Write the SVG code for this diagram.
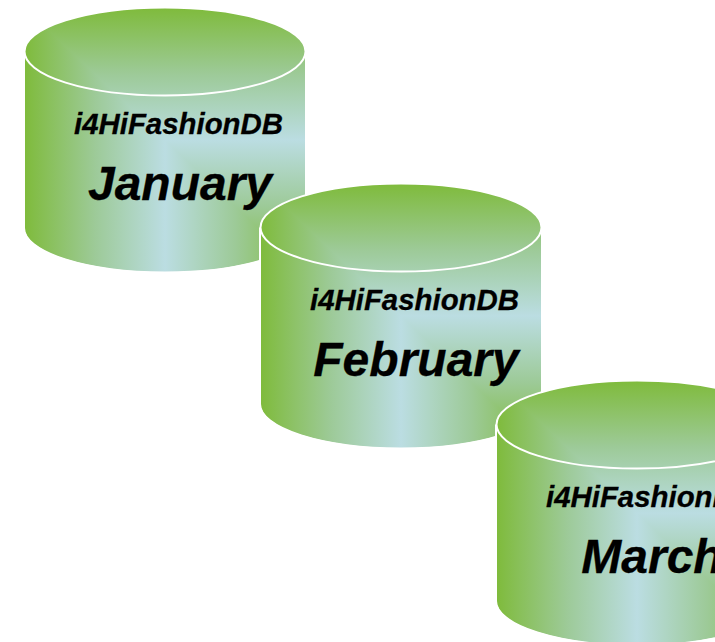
<svg xmlns="http://www.w3.org/2000/svg" xmlns:xlink="http://www.w3.org/1999/xlink" width="715" height="642" viewBox="0 0 715 642">
<style>
text{font-family:"Liberation Sans",Arial,sans-serif;font-weight:bold;font-style:italic;fill:#000;stroke:#000;stroke-width:.3;text-anchor:middle}
.db{font-size:29.400px}
.mo{font-size:48px}
.line{fill:none;stroke:#fff;stroke-width:2}
.s0{stop-color:#7fbb3c}
.s1{stop-color:#9dca98}
.s2{stop-color:#bbdde2}
</style>
<defs>
<linearGradient id="gl" gradientUnits="userSpaceOnUse" x1="25" y1="0" x2="165" y2="0"><stop offset="0" class="s0"/><stop offset=".5" class="s1"/><stop offset="1" class="s2"/></linearGradient>
<linearGradient id="gr" gradientUnits="userSpaceOnUse" x1="305" y1="0" x2="165" y2="0"><stop offset="0" class="s0"/><stop offset=".5" class="s1"/><stop offset="1" class="s2"/></linearGradient>
<linearGradient id="gt" gradientUnits="userSpaceOnUse" x1="0" y1="8" x2="0" y2="140"><stop offset="0" class="s0"/><stop offset=".5" class="s1"/><stop offset="1" class="s2"/></linearGradient>
<linearGradient id="gb" gradientUnits="userSpaceOnUse" x1="0" y1="272" x2="0" y2="140"><stop offset="0" class="s0"/><stop offset=".5" class="s1"/><stop offset="1" class="s2"/></linearGradient>
<clipPath id="shape"><path d="M24.500 51.500A140.500 44 0 0 1 305.500 51.500V228A140.500 44 0 0 1 24.500 228Z"/></clipPath>
<g id="cyl">
<g clip-path="url(#shape)">
<rect x="24" y="7" width="282" height="134" fill="url(#gt)"/>
<polygon points="24,7 165,140 165,273 24,273" fill="url(#gl)"/>
<polygon points="165,140 306,140 306,273 165,273" fill="url(#gr)"/>
<polygon points="165,140 306,140 306,273" fill="url(#gb)"/>
</g>
<path class="line" d="M24 51.500V228A141 44.500 0 0 0 306 228V51.500"/>
<ellipse class="line" cx="165" cy="51.500" rx="140.500" ry="44"/>
</g>
</defs>
<g id="connectors"/>
<g id="january">
<use xlink:href="#cyl" href="#cyl"/>
<text class="db" x="178.500" y="133.500">i4HiFashionDB</text>
<text class="mo" x="180" y="199.500">January</text>
</g>
<g id="february" transform="translate(236 176)">
<use xlink:href="#cyl" href="#cyl"/>
<text class="db" x="178.500" y="133.500">i4HiFashionDB</text>
<text class="mo" x="180" y="199.500">February</text>
</g>
<g id="march" transform="translate(472 373)">
<use xlink:href="#cyl" href="#cyl"/>
<text class="db" x="178.500" y="133.500">i4HiFashionDB</text>
<text class="mo" x="180" y="199.500">March</text>
</g>
</svg>
